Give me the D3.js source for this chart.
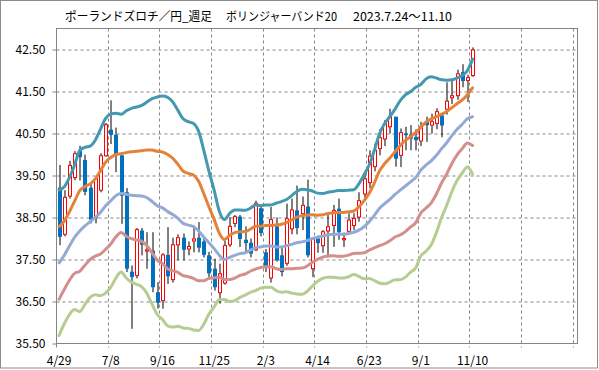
<!DOCTYPE html>
<html>
<head>
<meta charset="utf-8">
<script src="https://cdn.jsdelivr.net/npm/d3@7"></script>
<style>
  body { margin: 0; background: #fff; }
  text { font-family: "Noto Sans CJK JP", "Liberation Sans", sans-serif; }
</style>
</head>
<body>
<div id="vis"></div>
<script>
// weekly candles, PLN/JPY
const weekLabels = ["4/29", "7/8", "9/16", "11/25", "2/3", "4/14", "6/23", "9/1", "11/10"];

const openVals = [39.21, 38.10, 39.01, 39.45, 40.08, 39.87, 39.21, 38.49, 39.15, 39.97,
  40.59, 40.47, 39.98, 39.10, 37.21, 37.12, 38.19, 37.70, 37.71, 36.72,
  36.52, 37.61, 37.02, 37.85, 38.02, 37.75, 37.94, 38.02, 37.93, 37.60,
  37.28, 36.71, 36.94, 37.85, 38.36, 38.52, 37.97, 37.90, 37.73, 38.72,
  37.67, 37.06, 38.29, 37.60, 37.41, 38.23, 38.67, 38.59, 38.76, 37.28,
  38.00, 37.83, 38.18, 38.31, 38.71, 37.97, 38.17, 38.31, 38.51, 39.06,
  39.33, 39.71, 40.14, 40.37, 40.66, 40.90, 39.98, 40.50, 40.48, 40.42,
  40.32, 40.78, 40.70, 40.74, 40.93, 41.08, 41.35, 41.40, 41.96, 41.76, 41.88];

const highVals = [39.75, 39.15, 39.85, 40.08, 40.21, 40.00, 39.30, 39.47, 40.03, 40.75,
  41.29, 40.64, 40.00, 39.20, 37.36, 38.25, 38.25, 38.15, 38.15, 36.96,
  37.65, 38.27, 38.02, 38.10, 38.12, 37.93, 38.31, 38.39, 38.00, 37.68,
  37.52, 37.40, 37.95, 38.51, 38.56, 38.56, 38.29, 38.00, 38.90, 38.79,
  37.75, 38.75, 38.50, 37.80, 38.83, 38.95, 39.26, 39.00, 39.40, 38.00,
  38.07, 38.20, 38.60, 38.80, 38.95, 38.14, 38.60, 38.60, 39.10, 39.55,
  40.10, 40.26, 40.60, 40.82, 41.09, 40.90, 40.62, 40.66, 40.70, 40.60,
  40.78, 40.90, 40.97, 41.10, 40.95, 41.72, 41.75, 42.02, 42.15, 41.90, 42.55];

const lowVals = [37.84, 38.05, 38.95, 39.39, 39.38, 39.03, 38.36, 38.36, 39.10, 39.95,
  40.25, 39.58, 38.35, 37.20, 35.85, 37.05, 37.60, 37.28, 36.72, 36.33,
  36.33, 36.92, 36.95, 37.48, 37.48, 37.60, 37.67, 37.67, 37.55, 37.08,
  36.76, 36.45, 36.90, 37.80, 38.27, 37.80, 37.70, 37.55, 37.70, 38.05,
  37.20, 36.95, 37.45, 37.10, 37.35, 38.10, 38.10, 38.20, 37.55, 37.08,
  37.66, 37.66, 37.55, 37.80, 37.97, 37.80, 38.10, 38.20, 38.40, 38.95,
  39.20, 39.60, 39.98, 40.20, 40.50, 39.71, 39.70, 40.10, 40.10, 40.10,
  40.20, 40.30, 40.50, 40.60, 40.41, 40.95, 41.20, 41.30, 41.60, 41.25, 41.85];

const closeVals = [38.04, 38.98, 39.74, 40.02, 39.94, 39.11, 38.45, 39.43, 39.97, 40.71,
  40.47, 39.98, 39.02, 37.28, 37.08, 38.21, 37.85, 37.73, 36.84, 36.47,
  37.61, 37.10, 37.85, 38.02, 37.73, 37.81, 37.99, 37.78, 37.61, 37.17,
  36.84, 37.16, 37.83, 38.29, 38.52, 37.99, 37.89, 37.64, 38.84, 38.13,
  37.32, 38.45, 37.48, 37.20, 38.47, 38.68, 38.25, 38.79, 37.60, 37.99,
  37.89, 38.16, 38.28, 38.67, 38.15, 38.00, 38.44, 38.48, 38.90, 39.42,
  39.96, 40.10, 40.40, 40.74, 40.91, 39.90, 40.52, 40.46, 40.38, 40.34,
  40.66, 40.70, 40.78, 41.02, 40.69, 41.27, 41.40, 41.92, 41.75, 41.83, 42.49];

// 20-week moving average and its standard deviation
const ma20 = [37.42, 37.60, 37.82, 38.03, 38.18, 38.30, 38.40, 38.50, 38.62, 38.78,
  38.90, 39.02, 39.08, 39.05, 39.03, 39.02, 39.01, 38.97, 38.88, 38.78,
  38.73, 38.64, 38.57, 38.48, 38.36, 38.32, 38.28, 38.18, 38.03, 37.90,
  37.76, 37.60, 37.50, 37.55, 37.60, 37.64, 37.66, 37.72, 37.78, 37.80,
  37.82, 37.82, 37.80, 37.80, 37.83, 37.86, 37.90, 37.92, 37.95, 38.00,
  38.03, 38.06, 38.09, 38.10, 38.10, 38.10, 38.12, 38.15, 38.20, 38.28,
  38.40, 38.55, 38.72, 38.83, 38.93, 39.05, 39.15, 39.25, 39.35, 39.45,
  39.63, 39.75, 39.85, 39.98, 40.14, 40.28, 40.45, 40.60, 40.72, 40.85, 40.90];

const sigma = [0.865, 0.815, 0.815, 0.86, 0.96, 0.935, 0.90, 0.92, 0.99, 1.04,
  1.03, 0.98, 0.94, 0.995, 1.035, 1.055, 1.08, 1.14, 1.225, 1.295,
  1.33, 1.36, 1.34, 1.285, 1.245, 1.23, 1.23, 1.185, 1.035, 0.85,
  0.695, 0.525, 0.475, 0.525, 0.54, 0.52, 0.505, 0.50, 0.51, 0.49,
  0.49, 0.49, 0.52, 0.54, 0.55, 0.58, 0.61, 0.625, 0.605, 0.565,
  0.525, 0.505, 0.505, 0.51, 0.52, 0.52, 0.515, 0.505, 0.55, 0.62,
  0.675, 0.775, 0.89, 0.955, 0.985, 1.015, 1.065, 1.085, 1.075, 1.075,
  1.02, 1.025, 1.00, 0.92, 0.82, 0.745, 0.665, 0.61, 0.58, 0.575, 0.685];

const bands = [
  { k: -2, color: "#b5cd91" },
  { k: -1, color: "#d38f8c" },
  { k: 0, color: "#93aad5" },
  { k: 1, color: "#e3823a" },
  { k: 2, color: "#4399b0" }
];

const titleParts = [
  { text: "ポーランドズロチ／円_週足", x: 65, len: 147 },
  { text: "ボリンジャーバンド20", x: 226, len: 111 },
  { text: "2023.7.24～11.10", x: 353, len: 99 }
];

const WIDTH = 599;
const HEIGHT = 370;
const margin = { top: 28.5, right: 21.5, bottom: 26.5, left: 56.5 };
const width = WIDTH - margin.left - margin.right;
const height = HEIGHT - margin.top - margin.bottom;

const svg = d3.select("#vis")
  .append("svg")
  .attr("width", WIDTH)
  .attr("height", HEIGHT);

// outer border
svg.append("rect")
  .attr("x", 0.5).attr("y", 0.5)
  .attr("width", WIDTH - 2).attr("height", HEIGHT - 2.5)
  .attr("fill", "#fff")
  .attr("stroke", "#8c8c8c");

svg.selectAll(".title")
  .data(titleParts)
  .join("text")
  .attr("x", d => d.x)
  .attr("y", 21)
  .attr("font-size", 12)
  .attr("fill", "#000")
  .attr("textLength", d => d.len)
  .attr("lengthAdjust", "spacingAndGlyphs")
  .text(d => d.text);

const g = svg.append("g")
  .attr("transform", `translate(${margin.left},${margin.top})`);

// weeks on x, one candle per week
const x = d3.scaleLinear().domain([0, 100.8]).range([0, width]);
const y = d3.scaleLinear().domain([35.5, 43]).range([height, 0]);

const weekTicks = d3.range(0, 101, 10);
const yTicks = d3.range(35.5, 42.51, 1);
const gridColor = "#858585";

// grid
g.selectAll(".hgrid")
  .data(yTicks.slice(1))
  .join("line")
  .attr("x1", 0).attr("x2", width)
  .attr("y1", d => Math.round(y(d)) + 0.5)
  .attr("y2", d => Math.round(y(d)) + 0.5)
  .attr("stroke", gridColor)
  .attr("stroke-dasharray", "3,3");

g.selectAll(".vgrid")
  .data(weekTicks.slice(1))
  .join("line")
  .attr("x1", d => Math.round(x(d))).attr("x2", d => Math.round(x(d)))
  .attr("y1", 0).attr("y2", height + 4)
  .attr("stroke", gridColor)
  .attr("stroke-dasharray", "3,3");

// frame
g.append("rect")
  .attr("x", 0).attr("y", 0)
  .attr("width", width).attr("height", height)
  .attr("fill", "none")
  .attr("stroke", gridColor);

// ticks
g.selectAll(".ytick")
  .data(yTicks)
  .join("line")
  .attr("x1", -4).attr("x2", 0)
  .attr("y1", d => Math.round(y(d)) + 0.5)
  .attr("y2", d => Math.round(y(d)) + 0.5)
  .attr("stroke", gridColor);

g.append("line")
  .attr("x1", 0).attr("x2", 0)
  .attr("y1", height).attr("y2", height + 4)
  .attr("stroke", gridColor);

g.selectAll(".ylab")
  .data(yTicks)
  .join("text")
  .attr("x", -11)
  .attr("y", d => y(d) + 4)
  .attr("text-anchor", "end")
  .attr("font-size", 12)
  .attr("font-family", "Liberation Sans, Arial, sans-serif")
  .text(d => d3.format(".2f")(d));

g.selectAll(".xlab")
  .data(weekLabels)
  .join("text")
  .attr("x", (d, i) => x(i * 10 + 0.5))
  .attr("y", height + 21)
  .attr("text-anchor", "middle")
  .attr("font-size", 12)
  .attr("font-family", "Liberation Sans, Arial, sans-serif")
  .text(d => d);

// candles
const idx = d3.range(openVals.length);
const cx = i => Math.round(x(i + 0.5)) + 0.5;

const candles = g.append("g");

candles.selectAll(".wick")
  .data(idx)
  .join("line")
  .attr("x1", cx).attr("x2", cx)
  .attr("y1", i => y(highVals[i]))
  .attr("y2", i => y(lowVals[i]))
  .attr("stroke", "#000")
  .attr("stroke-width", 1);

candles.selectAll(".body")
  .data(idx)
  .join("rect")
  .attr("x", i => closeVals[i] >= openVals[i] ? cx(i) - 1.5 : cx(i) - 2)
  .attr("width", i => closeVals[i] >= openVals[i] ? 3 : 4)
  .attr("y", i => y(Math.max(openVals[i], closeVals[i])))
  .attr("height", i => Math.max(1, Math.abs(y(openVals[i]) - y(closeVals[i]))))
  .attr("fill", i => closeVals[i] >= openVals[i] ? "#fff" : "#0070c0")
  .attr("stroke", i => closeVals[i] >= openVals[i] ? "#ff0000" : "none")
  .attr("stroke-width", 1);

// bollinger bands
const bandLine = k => d3.line()
  .x(i => x(i + 0.5))
  .y(i => y(ma20[i] + k * sigma[i]))
  .curve(d3.curveMonotoneX);

g.selectAll(".band")
  .data(bands)
  .join("path")
  .attr("d", b => bandLine(b.k)(idx))
  .attr("fill", "none")
  .attr("stroke", b => b.color)
  .attr("stroke-width", 3)
  .attr("stroke-linejoin", "round")
  .attr("stroke-linecap", "round");
</script>
</body>
</html>
